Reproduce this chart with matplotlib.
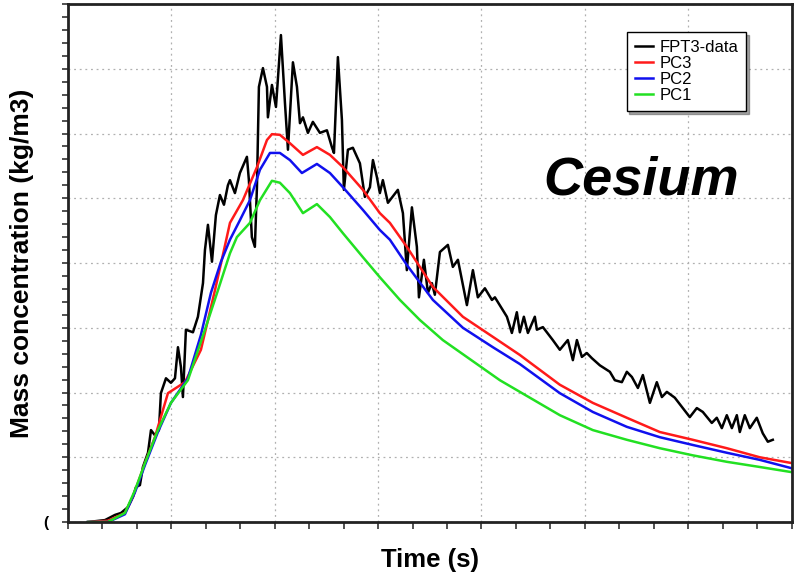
import numpy as np
import matplotlib.pyplot as plt
from matplotlib.ticker import MultipleLocator, NullFormatter

# 数据 (时间单位任意, 纵轴无刻度标签)
fpt3_t = [193, 358, 455, 513, 580, 629, 658, 696, 725, 774, 803, 841, 880, 899, 948, 996,
          1035, 1064, 1093, 1112, 1141, 1209, 1257, 1306, 1325, 1354, 1393, 1431, 1470, 1509,
          1547, 1567, 1615, 1663, 1731, 1750, 1779, 1808, 1828, 1847, 1886, 1925, 1934, 1973,
          2012, 2060, 2099, 2128, 2176, 2215, 2244, 2273, 2321, 2369, 2437, 2505, 2553, 2573,
          2611, 2650, 2669, 2708, 2756, 2824, 2872, 2921, 2950, 2988, 3017, 3046, 3095, 3191,
          3240, 3278, 3327, 3375, 3395, 3443, 3482, 3520, 3549, 3598, 3675, 3723, 3772, 3859,
          3917, 3965, 4033, 4101, 4130, 4246, 4294, 4342, 4371, 4410, 4449, 4516, 4536, 4594,
          4690, 4758, 4835, 4884, 4923, 4971, 5019, 5068, 5145, 5242, 5290, 5358, 5406, 5455,
          5513, 5561, 5629, 5696, 5745, 5793, 5870, 5948, 6015, 6083, 6141, 6228, 6276, 6325,
          6373, 6422, 6470, 6499, 6547, 6596, 6663, 6721, 6770, 6818]
fpt3_c = [0.0, 0.03, 0.11, 0.14, 0.23, 0.39, 0.54, 0.57, 0.85, 1.07, 1.42, 1.34, 1.42, 1.99, 2.22, 2.15,
          2.22, 2.70, 2.39, 1.93, 2.97, 2.93, 3.17, 3.69, 4.20, 4.59, 4.02, 4.74, 5.05, 4.90,
          5.20, 5.28, 5.08, 5.39, 5.64, 5.28, 4.40, 4.25, 5.17, 6.72, 7.01, 6.72, 6.25, 6.75,
          6.41, 7.52, 6.47, 5.75, 7.10, 6.72, 6.16, 6.25, 6.01, 6.18, 6.01, 6.05, 5.79, 5.70,
          7.18, 6.21, 5.13, 5.75, 5.78, 5.54, 5.02, 5.17, 5.59, 5.33, 5.08, 5.28, 4.93, 5.13,
          4.77, 3.89, 4.86, 4.25, 3.47, 4.05, 3.54, 3.69, 3.51, 4.17, 4.28, 3.94, 4.05, 3.35,
          3.89, 3.47, 3.61, 3.43, 3.47, 3.17, 2.92, 3.24, 2.93, 3.17, 2.92, 3.17, 2.97, 3.01,
          2.81, 2.66, 2.81, 2.50, 2.81, 2.55, 2.61, 2.53, 2.42, 2.32, 2.19, 2.16, 2.32, 2.24,
          2.07, 2.27, 1.84, 2.16, 1.93, 2.01, 1.92, 1.76, 1.62, 1.76, 1.70, 1.53, 1.61, 1.45,
          1.65, 1.45, 1.65, 1.39, 1.65, 1.45, 1.61, 1.37, 1.24, 1.27]

pc3_t = [193, 387, 551, 629, 745, 841, 967, 1132, 1286, 1422, 1509, 1567, 1692, 1828, 1925, 1973,
         2050, 2147, 2273, 2408, 2534, 2660, 2853, 3017, 3114, 3278, 3530, 3820, 4110, 4371,
         4758, 5077, 5406, 5725, 6044, 6373, 6692, 7002]
pc3_c = [0.0, 0.02, 0.14, 0.39, 0.91, 1.31, 1.99, 2.16, 2.66, 3.58, 4.20, 4.62, 4.97, 5.48, 5.90, 5.99,
         5.98, 5.85, 5.67, 5.79, 5.67, 5.48, 5.13, 4.77, 4.62, 4.25, 3.63, 3.17, 2.86, 2.58,
         2.12, 1.84, 1.61, 1.39, 1.27, 1.14, 1.00, 0.91]

pc2_t = [193, 387, 551, 648, 745, 870, 996, 1160, 1286, 1383, 1480, 1567, 1663, 1760, 1857, 1954,
         2050, 2147, 2263, 2408, 2534, 2660, 2853, 3017, 3114, 3278, 3530, 3820, 4110, 4371,
         4758, 5077, 5406, 5725, 6044, 6373, 6692, 7002]
pc2_c = [0.0, 0.0, 0.12, 0.46, 0.88, 1.39, 1.84, 2.22, 2.89, 3.54, 4.02, 4.36, 4.66, 4.97, 5.44, 5.70,
         5.70, 5.59, 5.39, 5.53, 5.39, 5.17, 4.82, 4.51, 4.36, 3.97, 3.43, 3.00, 2.70, 2.44,
         1.99, 1.70, 1.47, 1.31, 1.19, 1.07, 0.96, 0.83]

pc1_t = [193, 387, 551, 648, 745, 870, 996, 1160, 1325, 1451, 1567, 1634, 1760, 1857, 1973, 2050,
         2147, 2273, 2408, 2534, 2660, 2853, 3017, 3211, 3404, 3626, 4178, 4758, 5077, 5406,
         5725, 6044, 6373, 6692, 7002]
pc1_c = [0.0, 0.0, 0.14, 0.49, 0.91, 1.42, 1.84, 2.19, 2.97, 3.58, 4.15, 4.40, 4.62, 4.97, 5.27, 5.24,
         5.08, 4.77, 4.91, 4.71, 4.46, 4.09, 3.78, 3.43, 3.12, 2.81, 2.19, 1.65, 1.42, 1.27,
         1.14, 1.03, 0.93, 0.85, 0.77]

plt.rcParams['font.family'] = ['Liberation Sans', 'DejaVu Sans']

fig = plt.figure(figsize=(7.94, 5.81), dpi=100)
ax = fig.add_axes([0.0856, 0.1015, 0.9114, 0.8916])

line_kw = dict(lw=1.8, solid_joinstyle='round')
ax.plot(fpt3_t, fpt3_c, color='black', label='FPT3-data', **line_kw)
ax.plot(pc3_t, pc3_c, color='#ff1a1a', label='PC3', **line_kw)
ax.plot(pc2_t, pc2_c, color='#1010ee', label='PC2', **line_kw)
ax.plot(pc1_t, pc1_c, color='#22e022', label='PC1', **line_kw)

ax.set_xlim(0, 7000)
ax.set_ylim(0, 8)
ax.xaxis.set_major_locator(MultipleLocator(1000))
ax.xaxis.set_minor_locator(MultipleLocator(1000 / 3))
ax.yaxis.set_major_locator(MultipleLocator(1))
ax.yaxis.set_minor_locator(MultipleLocator(0.2))
ax.xaxis.set_major_formatter(NullFormatter())
ax.yaxis.set_major_formatter(NullFormatter())
ax.tick_params(which='both', direction='out', length=5, width=1.2, color='#333333')
ax.tick_params(axis='y', which='both', length=4)
ax.grid(True, which='major', linestyle=(0, (1.5, 3)), color='#b0b0b0', lw=0.9)
for s in ax.spines.values():
    s.set_linewidth(2)
    s.set_color('#222222')

ax.set_xlabel('Time (s)', fontsize=18.5, fontweight='bold', labelpad=10)
ax.set_ylabel('Mass concentration (kg/m3)', fontsize=19, fontweight='bold', labelpad=17)

ax.text(0.927, 0.66, 'Cesium', transform=ax.transAxes, fontsize=39,
        fontweight='bold', fontstyle='italic', ha='right', va='center')

fig.text(0.054, 0.100, '(', fontsize=11, fontweight='bold', ha='left', va='center')

leg = ax.legend(loc='upper left', bbox_to_anchor=(0.772, 0.946), borderaxespad=0,
                fontsize=12, handlelength=1.1, handletextpad=0.35, labelspacing=0.05,
                borderpad=0.5, fancybox=False, shadow=True, framealpha=1,
                edgecolor='black')
leg.get_frame().set_linewidth(1.0)

fig.savefig('out.png', dpi=100)
